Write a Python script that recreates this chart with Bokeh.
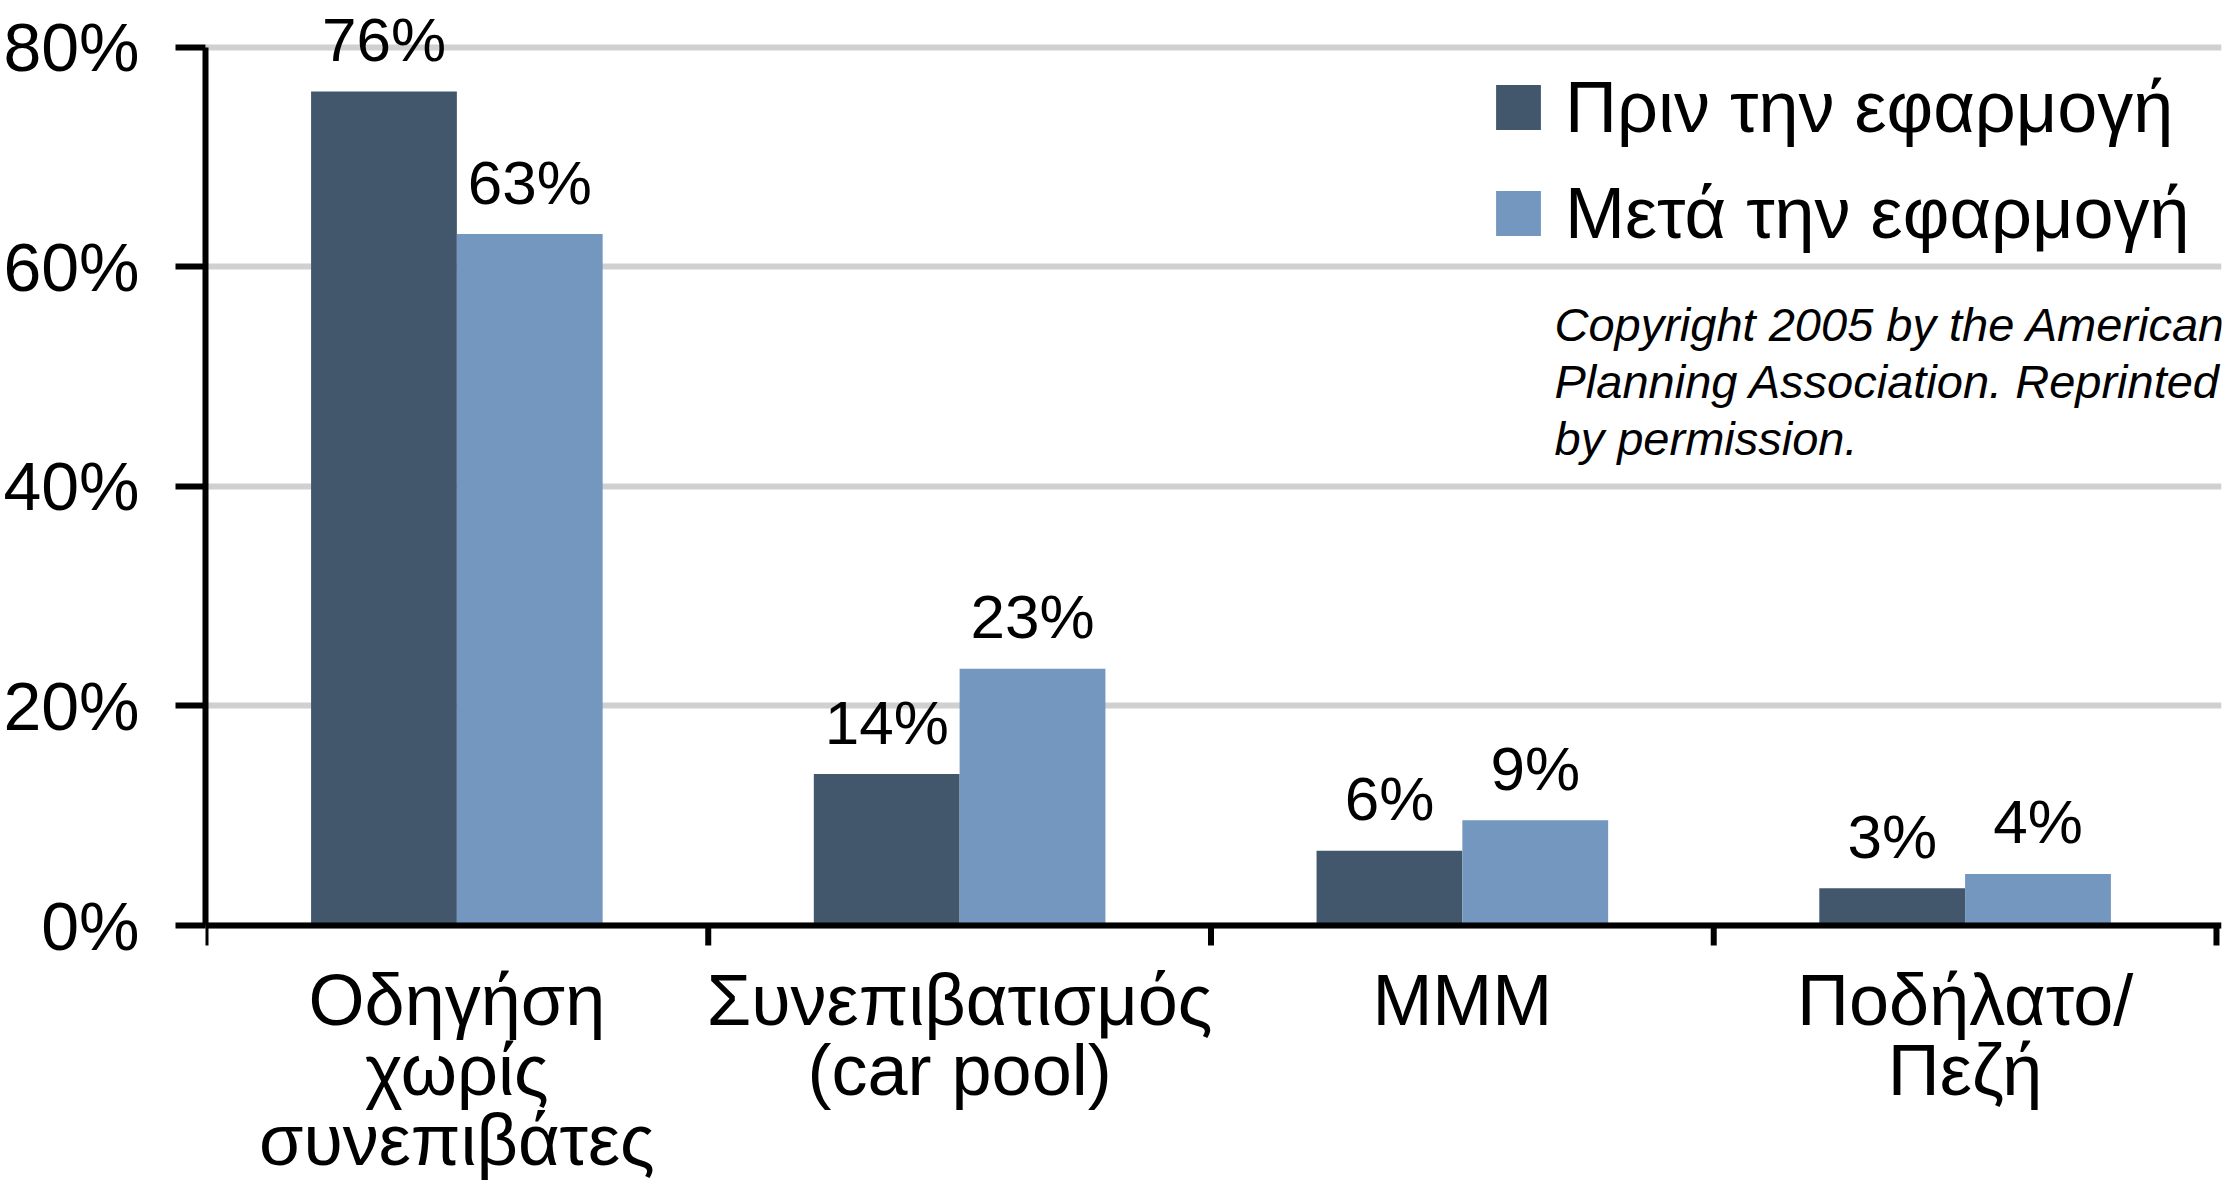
from bokeh.plotting import figure
from bokeh.models import Range1d, FixedTicker, Legend, LegendItem, Label, Span
from bokeh.core.properties import value
from bokeh.embed import file_html
from bokeh.resources import INLINE

# ---- data ----
categories = ["Οδηγήση\nχωρίς\nσυνεπιβάτες", "Συνεπιβατισμός\n(car pool)", "ΜΜΜ", "Ποδήλατο/\nΠεζή"]
series_names = ["Πριν την εφαρμογή", "Μετά την εφαρμογή"]
before = [76.0, 13.8, 6.8, 3.4]
after = [63.0, 23.4, 9.6, 4.7]
before_labels = ["76%", "14%", "6%", "3%"]
after_labels = ["63%", "23%", "9%", "4%"]
y_ticks = [0, 20, 40, 60, 80]
y_tick_labels = ["0%", "20%", "40%", "60%", "80%"]
copyright_lines = ["Copyright 2005 by the American", "Planning Association. Reprinted", "by permission."]

DARK = "#42576C"
LIGHT = "#7397BE"
FONT = "Liberation Sans"

W, H = 2235, 1181
LEFT, RIGHT = 202, 14
AXIS_PX = 925                      # screen row of the 0% line
Y_TOP = 84.28
ppu = AXIS_PX / Y_TOP              # pixels per percentage point
Y_BOTTOM = -(H - AXIS_PX) / ppu

n = len(categories)
centers = [i + 0.5 for i in range(n)]
bounds_x = list(range(n + 1))
bar_w = 0.29
x_before = [c - bar_w / 2 for c in centers]
x_after = [c + bar_w / 2 for c in centers]

p = figure(width=W, height=H,
           x_range=Range1d(0, 4.01), y_range=Range1d(Y_BOTTOM, Y_TOP),
           output_backend="svg", toolbar_location=None,
           x_axis_location=None,
           min_border_left=LEFT, min_border_right=RIGHT,
           min_border_top=0, min_border_bottom=0)
p.outline_line_color = None
p.background_fill_color = "white"
p.border_fill_color = "white"

# grid
p.xgrid.visible = False
p.ygrid.grid_line_color = "#d0d0d0"
p.ygrid.grid_line_width = 6

# y axis
yax = p.yaxis[0]
yax.ticker = FixedTicker(ticks=y_ticks)
yax.major_label_overrides = {t: l for t, l in zip(y_ticks, y_tick_labels)}
yax.bounds = (0, 80)
yax.axis_line_width = 6
yax.axis_line_color = "black"
yax.major_tick_out = 30
yax.major_tick_in = 0
yax.major_tick_line_width = 6
yax.minor_tick_line_color = None
yax.major_label_text_font = FONT
yax.major_label_text_font_size = "68px"
yax.major_label_text_color = "black"
yax.major_label_standoff = 36

# bars
r1 = p.vbar(x=x_before, top=before, width=bar_w, fill_color=DARK, line_color=None)
r2 = p.vbar(x=x_after, top=after, width=bar_w, fill_color=LIGHT, line_color=None)

# category axis: base line, boundary ticks, category names
p.add_layout(Span(location=0, dimension="width", line_color="black", line_width=6))
p.segment(x0=bounds_x, y0=[0] * len(bounds_x), x1=bounds_x,
          y1=[-20 / ppu] * len(bounds_x), line_color="black", line_width=6)

cat_x, cat_y, cat_t = [], [], []
for c, cat in zip(centers, categories):
    for j, line in enumerate(cat.split("\n")):
        cat_x.append(c)
        cat_y.append(-(95 + 70 * j - 21) / ppu)
        cat_t.append(line)
p.text(x=cat_x, y=cat_y, text=cat_t, text_align="center", text_baseline="alphabetic",
       text_font=value(FONT), text_font_size="72px", text_color="black")

# value labels
label_gap = 52 / ppu
p.text(x=x_before, y=[v + label_gap for v in before], text=before_labels,
       text_align="center", text_baseline="alphabetic",
       text_font=value(FONT), text_font_size="62px", text_color="black")
p.text(x=x_after, y=[v + label_gap for v in after], text=after_labels,
       text_align="center", text_baseline="alphabetic",
       text_font=value(FONT), text_font_size="62px", text_color="black")

# legend
legend = Legend(items=[LegendItem(label=series_names[0], renderers=[r1]),
                       LegendItem(label=series_names[1], renderers=[r2])],
                location=(1285, 927), orientation="vertical",
                padding=0, margin=0, spacing=24,
                glyph_width=56, glyph_height=56, label_standoff=19,
                label_text_font=FONT, label_text_font_size="72px",
                label_text_color="black",
                border_line_color=None, background_fill_alpha=0)
p.add_layout(legend)

# copyright note
for i, line in enumerate(copyright_lines):
    p.add_layout(Label(x=1349, y=857 - 57 * i, x_units="screen", y_units="screen",
                       text=line, text_font=FONT, text_font_style="italic",
                       text_font_size="47px", text_color="black",
                       text_baseline="alphabetic", text_align="left"))

open("out.html", "w").write(file_html(p, INLINE))
